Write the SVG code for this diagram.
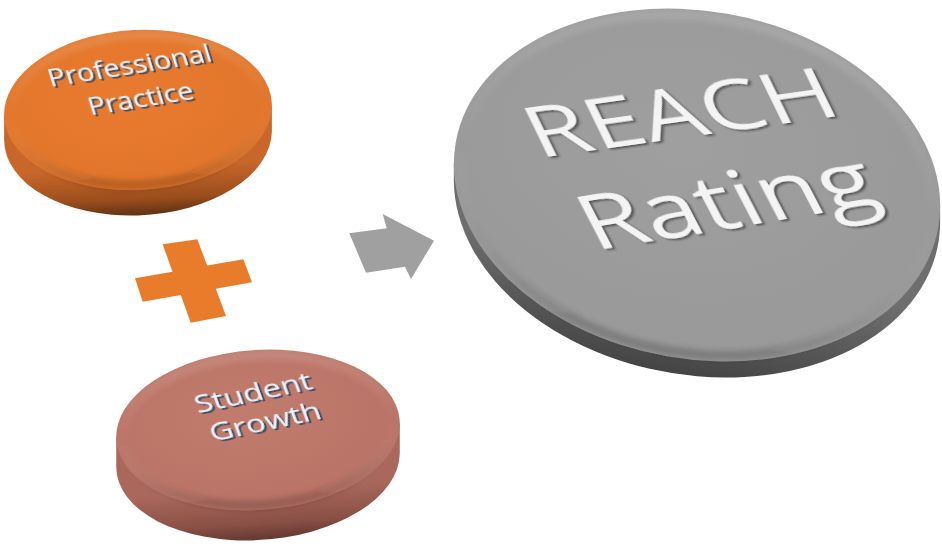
<svg xmlns="http://www.w3.org/2000/svg" width="942" height="558" viewBox="0 0 942 558">
  <defs>
    <style>
      .small { font-family: "Open Sans", "DejaVu Sans", sans-serif; font-size: 25px; fill: #eef3f8; text-anchor: middle; filter: url(#emboss); }
      .big { font-family: "Open Sans", "DejaVu Sans", sans-serif; fill: #f4f4f4; filter: url(#softShadow); }
      .bevel { fill: none; stroke-width: 10; filter: url(#blur2); }
    </style>
    <!-- white lettering with dark slate extrusion -->
    <filter id="emboss" x="-20%" y="-40%" width="140%" height="180%">
      <feOffset in="SourceAlpha" dx="1.6" dy="2" result="off"/>
      <feFlood flood-color="#3b4f66"/>
      <feComposite in2="off" operator="in" result="shade"/>
      <feMerge><feMergeNode in="shade"/><feMergeNode in="SourceGraphic"/></feMerge>
    </filter>
    <filter id="softShadow" x="-10%" y="-20%" width="120%" height="140%">
      <feGaussianBlur in="SourceAlpha" stdDeviation="1"/>
      <feOffset dx="1.5" dy="2" result="off"/>
      <feFlood flood-color="#4a4a4a" flood-opacity="0.9"/>
      <feComposite in2="off" operator="in" result="shade"/>
      <feMerge><feMergeNode in="shade"/><feMergeNode in="SourceGraphic"/></feMerge>
    </filter>
    <filter id="blur2" x="-10%" y="-10%" width="120%" height="120%">
      <feGaussianBlur stdDeviation="2.5"/>
    </filter>

    <!-- disc sides -->
    <linearGradient id="sideOrange" x1="0" y1="0" x2="0" y2="1">
      <stop offset="0.55" stop-color="#c9672a"/>
      <stop offset="0.85" stop-color="#9a4d1c"/>
      <stop offset="1" stop-color="#5e3214"/>
    </linearGradient>
    <linearGradient id="sideRose" x1="0" y1="0" x2="0" y2="1">
      <stop offset="0.55" stop-color="#a9685b"/>
      <stop offset="0.85" stop-color="#8a5046"/>
      <stop offset="1" stop-color="#643830"/>
    </linearGradient>
    <linearGradient id="sideGray" x1="0" y1="0" x2="0" y2="1">
      <stop offset="0.5" stop-color="#6e6e6e"/>
      <stop offset="0.8" stop-color="#555555"/>
      <stop offset="1" stop-color="#444444"/>
    </linearGradient>

    <!-- disc faces -->
    <radialGradient id="faceOrange" cx="0.45" cy="0.4" r="0.7">
      <stop offset="0" stop-color="#e87b2f"/>
      <stop offset="1" stop-color="#e0742a"/>
    </radialGradient>
    <radialGradient id="faceRose" cx="0.45" cy="0.4" r="0.7">
      <stop offset="0" stop-color="#c27c6d"/>
      <stop offset="1" stop-color="#b87266"/>
    </radialGradient>
    <radialGradient id="faceGray" cx="0.45" cy="0.4" r="0.7">
      <stop offset="0" stop-color="#9f9f9f"/>
      <stop offset="1" stop-color="#989898"/>
    </radialGradient>

    <!-- soft rim of each face -->
    <linearGradient id="rim" x1="0" y1="0" x2="0" y2="1">
      <stop offset="0" stop-color="#ffffff" stop-opacity="0.12"/>
      <stop offset="0.5" stop-color="#ffffff" stop-opacity="0"/>
      <stop offset="1" stop-color="#000000" stop-opacity="0.18"/>
    </linearGradient>
  </defs>

  <rect width="942" height="558" fill="#ffffff"/>

  <!-- Professional Practice -->
  <g id="professional-practice">
    <g transform="translate(138 110) rotate(-3)">
      <path d="M -133.93 -2.5 L -135.29 23.46 A 134 80 0 0 0 132.57 28.46 L 133.93 2.5 Z" fill="url(#sideOrange)"/>
      <ellipse cx="0" cy="0" rx="134" ry="80" fill="url(#faceOrange)"/>
      <ellipse class="bevel" cx="0" cy="0" rx="128" ry="75" stroke="url(#rim)"/>
    </g>
    <text class="small" transform="translate(132 74) rotate(-9) skewX(8) scale(1.15 1)">Professional</text>
    <text class="small" transform="translate(143 107) rotate(-9) skewX(8) scale(1.15 1)">Practice</text>
  </g>

  <!-- Student Growth -->
  <g id="student-growth">
    <g transform="translate(258 430) rotate(-4)">
      <path d="M -141.89 -3.15 L -143.98 26.78 A 142 80 0 0 0 139.8 33.08 L 141.89 3.15 Z" fill="url(#sideRose)"/>
      <ellipse cx="0" cy="0" rx="142" ry="80" fill="url(#faceRose)"/>
      <ellipse class="bevel" cx="0" cy="0" rx="136" ry="75" stroke="url(#rim)"/>
    </g>
    <text class="small" transform="translate(256 401) rotate(-12) skewX(8) scale(1.3 1)">Student</text>
    <text class="small" transform="translate(268 430) rotate(-12) skewX(8) scale(1.3 1)">Growth</text>
  </g>

  <!-- REACH Rating -->
  <g id="reach-rating">
    <g transform="translate(697 185) rotate(10)">
      <path d="M -243.1 21.6 L -240.15 38.34 A 245 174 0 0 0 246.05 -4.86 L 243.1 -21.6 Z" fill="url(#sideGray)"/>
      <ellipse cx="0" cy="0" rx="245" ry="174" fill="url(#faceGray)"/>
      <ellipse class="bevel" cx="0" cy="0" rx="238" ry="168" stroke="url(#rim)"/>
    </g>
    <text class="big" font-size="72" transform="translate(539 158) rotate(-8) skewX(18) scale(1.35 1)">REACH</text>
    <text class="big" font-size="78" transform="translate(595 251) rotate(-9.5) skewX(18) scale(1.28 1)">Rating</text>
  </g>

  <!-- operators between the discs -->
  <g id="connectors">
    <polygon fill="#e87c2a" points="162.7,244.3 197.3,239.3 207.2,265.6 243.3,259.3 252,282.3 215.8,288.7 226,316 190.7,322.7 180.8,294.9 142.7,301.7 135,278.3 172.5,271.7"/>
    <polygon fill="#a0a0a0" points="349.3,233.3 386.7,228.3 382.7,214 434,240.7 411,279 405,266.7 366,272.7"/>
  </g>
</svg>
